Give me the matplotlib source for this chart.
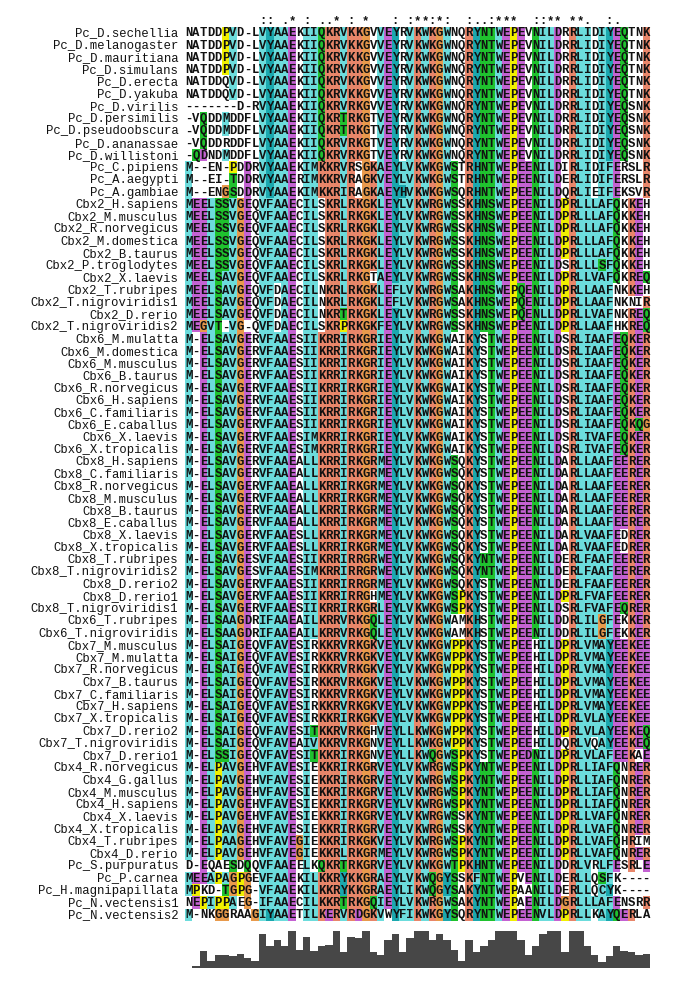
import numpy as np
import matplotlib.pyplot as plt
from matplotlib.colors import to_rgb
from collections import Counter

# Sequence names and aligned sequences (ClustalX-style view)
names = [
    'Pc_D.sechellia', 'Pc_D.melanogaster', 'Pc_D.mauritiana', 'Pc_D.simulans',
    'Pc_D.erecta', 'Pc_D.yakuba', 'Pc_D.virilis', 'Pc_D.persimilis',
    'Pc_D.pseudoobscura', 'Pc_D.ananassae', 'Pc_D.willistoni', 'Pc_C.pipiens',
    'Pc_A.aegypti', 'Pc_A.gambiae', 'Cbx2_H.sapiens', 'Cbx2_M.musculus',
    'Cbx2_R.norvegicus', 'Cbx2_M.domestica', 'Cbx2_B.taurus', 'Cbx2_P.troglodytes',
    'Cbx2_X.laevis', 'Cbx2_T.rubripes', 'Cbx2_T.nigroviridis1', 'Cbx2_D.rerio',
    'Cbx2_T.nigroviridis2', 'Cbx6_M.mulatta', 'Cbx6_M.domestica', 'Cbx6_M.musculus',
    'Cbx6_B.taurus', 'Cbx6_R.norvegicus', 'Cbx6_H.sapiens', 'Cbx6_C.familiaris',
    'Cbx6_E.caballus', 'Cbx6_X.laevis', 'Cbx6_X.tropicalis', 'Cbx8_H.sapiens',
    'Cbx8_C.familiaris', 'Cbx8_R.norvegicus', 'Cbx8_M.musculus', 'Cbx8_B.taurus',
    'Cbx8_E.caballus', 'Cbx8_X.laevis', 'Cbx8_X.tropicalis', 'Cbx8_T.rubripes',
    'Cbx8_T.nigroviridis2', 'Cbx8_D.rerio2', 'Cbx8_D.rerio1', 'Cbx8_T.nigroviridis1',
    'Cbx6_T.rubripes', 'Cbx6_T.nigroviridis', 'Cbx7_M.musculus', 'Cbx7_M.mulatta',
    'Cbx7_R.norvegicus', 'Cbx7_B.taurus', 'Cbx7_C.familiaris', 'Cbx7_H.sapiens',
    'Cbx7_X.tropicalis', 'Cbx7_D.rerio2', 'Cbx7_T.nigroviridis', 'Cbx7_D.rerio1',
    'Cbx4_R.norvegicus', 'Cbx4_G.gallus', 'Cbx4_M.musculus', 'Cbx4_H.sapiens',
    'Cbx4_X.laevis', 'Cbx4_X.tropicalis', 'Cbx4_T.rubripes', 'Cbx4_D.rerio',
    'Pc_S.purpuratus', 'Pc_P.carnea', 'Pc_H.magnipapillata', 'Pc_N.vectensis1',
    'Pc_N.vectensis2',
]

seqs = [
    'NATDDPVD-LVYAAEKIIQKRVKKGVVEYRVKWKGWNQRYNTWEPEVNILDRRLIDIYEQTNK',
    'NATDDPVD-LVYAAEKIIQKRVKKGVVEYRVKWKGWNQRYNTWEPEVNILDRRLIDIYEQTNK',
    'NATDDPVD-LVYAAEKIIQKRVKKGVVEYRVKWKGWNQRYNTWEPEVNILDRRLIDIYEQTNK',
    'NATDDPVD-LVYAAEKIIQKRVKKGVVEYRVKWKGWNQRYNTWEPEVNILDRRLIDIYEQTNK',
    'NATDDQVD-LVYAAEKIIQKRVKKGVVEYRVKWKGWNQRYNTWEPEVNILDRRLIDIYEQTNK',
    'NATDDQVD-LVYAAEKIIQKRVKKGVVEYRVKWKGWNQRYNTWEPEVNILDRRLIDIYEQTNK',
    '-------D-RVYAAEKIIQKRVRKGVVEYRVKWKGWNQRYNTWEPEVNILDRRLIDIYEQSNK',
    '-VQDDMDDFLVYAAEKIIQKRTRKGTVEYRVKWKGWNQRYNTWEPEVNILDRRLIDIYEQSNK',
    '-VQDDMDDFLVYAAEKIIQKRTRKGTVEYRVKWKGWNQRYNTWEPEVNILDRRLIDIYEQSNK',
    '-VQDDRDDFLVYAAEKIIQKRVRKGTVEYRVKWKGWNQRYNTWEPEVNILDRRLIDIYEQSNK',
    '-QDNDMDDFLVYAAEKIIQKRVRKGTVEYRVKWKGWNQRYNTWEPEVNILDRRLIDIYEQSNK',
    'M--EN-PDDRVYAAEKIMKKRVRSGKAEYLVKWKGWSTRHNTWEPEENILDIRLIDIFERSLR',
    'M--EI-TDDRVYAAERIMKKRVRAGKVEYLVKWKGWSTRHNTWEPEENILDERLIDIFERSLR',
    'M--ENGSDDRVYAAEKIMKKRIRAGKAEYHVKWKGWSQRHNTWEPEENILDQRLIEIFEKSVR',
    'MEELSSVGEQVFAAECILSKRLRKGKLEYLVKWRGWSSKHNSWEPEENILDPRLLLAFQKKEH',
    'MEELSSVGEQVFAAECILSKRLRKGKLEYLVKWRGWSSKHNSWEPEENILDPRLLLAFQKKEH',
    'MEELSSVGEQVFAAECILSKRLRKGKLEYLVKWRGWSSKHNSWEPEENILDPRLLLAFQKKEH',
    'MEELSSVGEQVFAAECILSKRLRKGKLEYLVKWRGWSSKHNSWEPEENILDPRLLLAFQKKEH',
    'MEELSSVGEQVFAAECILSKRLRKGKLEYLVKWRGWSSKHNSWEPEENILDPRLLLAFQKKEH',
    'MEELSSVGEQVFAAECILSKRLRKGKLEYLVKWRGWSSKHNSWEPEENILDSRLLLSFQKKEH',
    'MEELSAVGEQVFAAECILSKRLRKGTAEYLVKWRGWSSKHNSWEPEENILDPRLLVAFQKREQ',
    'MEELSAVGEQVFDAECILNKRLRKGKLEFLVKWRGWSAKHNSWEPQENILDPRLLAAFNKKEH',
    'MEELSAVGEQVFDAECILNKRLRKGKLEFLVKWRGWSAKHNSWEPQENILDPRLLAAFNKNIR',
    'MEELSAVGEQVFDAECILNKRTRKGKLEYLVKWRGWSSKHNSWEPQENLLDPRLLVAFNKREQ',
    'MEGVT-VG-QVFDAECILSKRPRKGKFEYLVKWRGWSSKHNSWEPEENILDPRLLAAFHKREQ',
    'M-ELSAVGERVFAAESIIKRRIRKGRIEYLVKWKGWAIKYSTWEPEENILDSRLIAAFEQKER',
    'M-ELSAVGERVFAAESIIKRRIRKGRIEYLVKWKGWAIKYSTWEPEENILDSRLIAAFEQKER',
    'M-ELSAVGERVFAAESIIKRRIRKGRIEYLVKWKGWAIKYSTWEPEENILDSRLIAAFEQKER',
    'M-ELSAVGERVFAAESIIKRRIRKGRIEYLVKWKGWAIKYSTWEPEENILDSRLIAAFEQKER',
    'M-ELSAVGERVFAAESIIKRRIRKGRIEYLVKWKGWAIKYSTWEPEENILDSRLIAAFEQKER',
    'M-ELSAVGERVFAAESIIKRRIRKGRIEYLVKWKGWAIKYSTWEPEENILDSRLIAAFEQKER',
    'M-ELSAVGERVFAAESIIKRRIRKGRIEYLVKWKGWAIKYSTWEPEENILDSRLIAAFEQKER',
    'M-ELSAVGERVFAAESIIKRRIRKGRIEYLVKWKGWAIKYSTWEPEENILDSRLIAAFEQKQG',
    'M-ELSAVGERVFAAESIMKRRIRKGRIEYLVKWKGWAIKYSTWEPEENILDSRLIVAFEQKER',
    'M-ELSAVGERVFAAESIMKRRIRKGRIEYLVKWKGWAIKYSTWEPEENILDSRLIVAFEQKER',
    'M-ELSAVGERVFAAEALLKRRIRKGRMEYLVKWKGWSQKYSTWEPEENILDARLLAAFEERER',
    'M-ELSAVGERVFAAEALLKRRIRKGRMEYLVKWKGWSQKYSTWEPEENILDARLLAAFEERER',
    'M-ELSAVGERVFAAEALLKRRIRKGRMEYLVKWKGWSQKYSTWEPEENILDARLLAAFEERER',
    'M-ELSAVGERVFAAEALLKRRIRKGRMEYLVKWKGWSQKYSTWEPEENILDARLLAAFEERER',
    'M-ELSAVGERVFAAEALLKRRIRKGRMEYLVKWKGWSQKYSTWEPEENILDARLLAAFEERER',
    'M-ELSAVGERVFAAEALLKRRIRKGRMEYLVKWKGWSQKYSTWEPEENILDARLLAAFEERER',
    'M-ELSAVGERVFAAESLLKRRIRKGRMEYLVKWKGWSQKYSTWEPEENILDARLVAAFEDRER',
    'M-ELSAVGERVFAAESLLKRRIRKGRMEYLVKWKGWSQKYSTWEPEENILDARLVAAFEDRER',
    'M-ELSAVGESVFAAESIIKRRIRRGRWEYLVKWKGWSQKYNTWEPEENILDERLFAAFEERER',
    'M-ELSAVGESVFAAESIMKRRIRRGRWEYLVKWKGWSQKYNTWEPEENILDERLFAAFEERER',
    'M-ELSAVGERVFAAESIIKRRIRRGRMEYLVKWKGWSQKYSTWEPEENILDERLFAAFEERER',
    'M-ELSAVGERVFAAESIIKRRIRRGHMEYLVKWKGWSPKYSTWEPEENILDPRLFVAFEERER',
    'M-ELSAVGERVFAAESIIKRRIRKGRLEYLVKWKGWSPKYSTWEPEENILDSRLFVAFEQRER',
    'M-ELSAAGDRIFAAEAILKRRVRKGQLEYLVKWKGWAMKHSTWEPEENILDDRLILGFEKKER',
    'M-ELSAAGDRIFAAEAILKRRVRKGQLEYLVKWKGWAMKHSTWEPEENILDDRLILGFEKKER',
    'M-ELSAIGEQVFAVESIRKKRVRKGKVEYLVKWKGWPPKYSTWEPEEHILDPRLVMAYEEKEE',
    'M-ELSAIGEQVFAVESIRKKRVRKGKVEYLVKWKGWPPKYSTWEPEEHILDPRLVMAYEEKEE',
    'M-ELSAIGEQVFAVESIRKKRVRKGKVEYLVKWKGWPPKYSTWEPEEHILDPRLVMAYEEKEE',
    'M-ELSAIGEQVFAVESIRKKRVRKGKVEYLVKWKGWPPKYSTWEPEEHILDPRLVMAYEEKEE',
    'M-ELSAIGEQVFAVESIRKKRVRKGKVEYLVKWKGWPPKYSTWEPEEHILDPRLVMAYEEKEE',
    'M-ELSAIGEQVFAVESIRKKRVRKGKVEYLVKWKGWPPKYSTWEPEEHILDPRLVMAYEEKEE',
    'M-ELSAIGEQVFAVESIRKKRIRKGKVEYLVKWKGWPPKYSTWEPEEHILDPRLVLAYEEKEE',
    'M-ELSAIGEQVFAVESITKKRVRKGHVEYLLKWKGWPPKYSTWEPEEHILDPRLVLAYEEKEQ',
    'M-ELSAIGEQVFAVEAIVKKRVRKGNVEYLLKWKGWPPKYSTWEPEEHILDQRLVQAYEEKEQ',
    'M-ELSSIGEQVFAVESITKKRIRKGNVEYLLKWQGWSPKYSTWEPEDNILDPRLVLAFEEKAE',
    'M-ELPAVGEHVFAVESIEKKRIRKGRVEYLVKWRGWSPKYNTWEPEENILDPRLLIAFQNRER',
    'M-ELPAVGEHVFAVESIEKKRIRKGRVEYLVKWRGWSPKYNTWEPEENILDPRLLIAFQNRER',
    'M-ELPAVGEHVFAVESIEKKRIRKGRVEYLVKWRGWSPKYNTWEPEENILDPRLLIAFQNRER',
    'M-ELPAVGEHVFAVESIEKKRIRKGRVEYLVKWRGWSPKYNTWEPEENILDPRLLIAFQNRER',
    'M-ELPAVGEHVFAVESIEKKRIRKGRVEYLVKWRGWSSKYNTWEPEENILDPRLLVAFQNRER',
    'M-ELPAVGEHVFAVESIEKKRIRKGRVEYLVKWRGWSSKYNTWEPEENILDPRLLVAFQNRER',
    'M-ELPAAGEHVFAVEGIEKKRIRKGKVEYLVKWRGWSPKYNTWEPEENILDPRLLVAFQHRIM',
    'M-ELPAVGEHVFAVEGIEKKRLRKGRMEYLVKWRGWSPKYNTWEPEENILDPRLLVAFQNRER',
    'D-EQAESDQQVFAAEELKQKRTRKGRVEYLVKWKGWTPKHNTWEPEENILDDRLVRLFESRLE',
    'MEEAPAGPGEVFAAEKILKKRYKKGRAEYLVKWQGYSSKFNTWEPVENILDERLLQSFK----',
    'MPKD-TGPG-VFAAEKILKKRYKKGRAEYLIKWQGYSAKYNTWEPAANILDERLLQCYK----',
    'NEPIPPAEG-IFAAECILKKRTRKGQIEYLVKWRGWSAKYNTWEPAENILDGRLLLAFENSRR',
    'M-NKGGRAAGIYAAETILKERVRDGKVWYFIKWKGYSQRYNTWEPEENVLDPRLLKAYQERLA',
]

# conservation (quality) histogram, percent of max, one value per column
quality = [0, 6, 47, 18, 35, 35, 32, 37, 26, 18,
           92, 59, 75, 59, 100, 49, 85, 47, 59, 63,
           100, 43, 85, 81, 100, 43, 35, 75, 92, 43,
           81, 100, 100, 75, 92, 75, 49, 20, 75, 43,
           59, 75, 100, 100, 100, 75, 35, 59, 92, 100,
           100, 43, 100, 100, 59, 35, 15, 32, 59, 47,
           43, 35, 37]

assert all(len(s) == 63 for s in seqs)

COL = {
    'blue': '#6cdcdc', 'red': '#e8866a', 'magenta': '#c462d2',
    'green': '#1fc22e', 'pink': '#f08080', 'orange': '#e89a4c',
    'yellow': '#f0f000', 'cyan': '#1ba8ae', 'white': '#ffffff',
}


def clustalx_colours(column):
    # percentages are taken over the residues only, gaps left out
    cnt = Counter(column)
    n = max(1, len(column) - cnt['-'])

    def pct(group):
        return 100.0 * sum(cnt[c] for c in group) / n

    hyd = pct('WLVIMAFCYHP') > 60
    kr = pct('KR') > 60
    qe = pct('QE') > 50
    ed = pct('ED') > 50
    ts = pct('TS') > 50
    nn = pct('N') > 50
    top = {c for c in cnt if c != '-' and 100.0 * cnt[c] / n > 85}
    out = {}
    for aa in cnt:
        c = 'white'
        if aa in 'AILMFWV':
            c = 'blue' if hyd else 'white'
        elif aa == 'C':
            c = 'pink' if 'C' in top else ('blue' if hyd else 'white')
        elif aa in 'KR':
            c = 'red' if (kr or top & set('KRQ')) else 'white'
        elif aa == 'E':
            c = 'magenta' if (kr or qe or top & set('EQD')) else 'white'
        elif aa == 'D':
            c = 'magenta' if (kr or ed or top & set('KRQ')) else 'white'
        elif aa == 'N':
            c = 'green' if (nn or top & set('NY')) else 'white'
        elif aa == 'Q':
            c = 'green' if (kr or qe or top & set('QEKR')) else 'white'
        elif aa in 'ST':
            c = 'green' if (hyd or ts or top & set('ST')) else 'white'
        elif aa == 'G':
            c = 'orange'
        elif aa == 'P':
            c = 'yellow'
        elif aa in 'HY':
            c = 'cyan' if (hyd or top & set('WYACPQFHILMV')) else 'white'
        out[aa] = c
    return out


strong = ['STA', 'NEQK', 'NHQK', 'NDEQ', 'QHRK', 'MILV', 'MILF', 'HY', 'FYW']
weak = ['CSA', 'ATV', 'SAG', 'STNK', 'STPA', 'SGND', 'SNDEQK', 'NDEQHK',
        'NEQHRK', 'FVLIM', 'HFY']


def clustal_symbol(column):
    s = set(column)
    if '-' in s:
        return ' '
    if len(s) == 1:
        return '*'
    if any(s <= set(g) for g in strong):
        return ':'
    if any(s <= set(g) for g in weak):
        return '.'
    return ' '


nrow, ncol = len(seqs), len(seqs[0])
columns = [''.join(s[j] for s in seqs) for j in range(ncol)]
col_maps = [clustalx_colours(c) for c in columns]

rgb = np.ones((nrow, ncol, 3))
for i, s in enumerate(seqs):
    for j, ch in enumerate(s):
        rgb[i, j] = to_rgb(COL[col_maps[j][ch]])

W, H = 685, 992
fig = plt.figure(figsize=(W / 100, H / 100), dpi=100)

# alignment block: columns 185..650 px, rows 26.6..920.8 px
x0, x1 = 185, 650
y0, y1 = 26.6, 920.8
ax = fig.add_axes([x0 / W, 1 - y1 / H, (x1 - x0) / W, (y1 - y0) / H])
ax.imshow(rgb, extent=(0, ncol, nrow, 0), aspect='auto', interpolation='nearest')
ax.set_xlim(0, ncol)
ax.set_ylim(nrow, 0)
ax.axis('off')

font = dict(family='Liberation Mono', fontsize=8.8, color='#111111')
for i, s in enumerate(seqs):
    for j, ch in enumerate(s):
        ax.text(j + 0.5, i + 0.55, ch, ha='center', va='center',
                fontweight='bold', **font)
    ax.text(-0.9, i + 0.55, names[i], ha='right', va='center',
            clip_on=False, **font)

for j, col in enumerate(columns):
    sym = clustal_symbol(col)
    if sym != ' ':
        ax.text(j + 0.5, -0.45, sym, ha='center', va='center', clip_on=False,
                fontweight='bold', **font)

# quality histogram
hx = fig.add_axes([x0 / W, 1 - 968 / H, (x1 - x0) / W, 37 / H])
hx.bar(np.arange(ncol) + 0.5, quality, width=1.0, color='#474747', linewidth=0)
hx.set_xlim(0, ncol)
hx.set_ylim(0, 100)
hx.axis('off')

fig.savefig('out.png', dpi=100)
